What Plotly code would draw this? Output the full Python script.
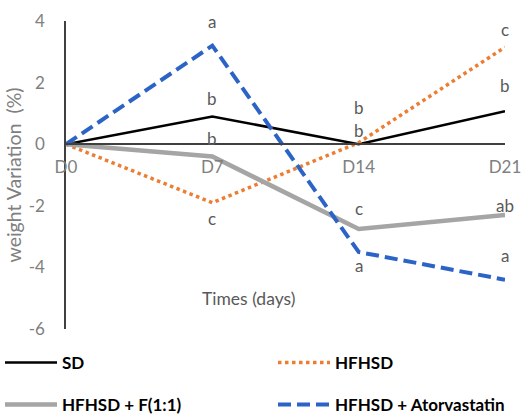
import plotly.graph_objects as go

days = ["D0", "D7", "D14", "D21"]
x_idx = [0, 1, 2, 3]

sd = [0, 0.9, 0.0, 1.07]
hfhsd = [0, -1.9, 0.05, 3.15]
hfhsd_f = [0, -0.4, -2.75, -2.3]
hfhsd_ator = [0, 3.2, -3.5, -4.4]

letter_x = [1, 1, 1, 1, 2, 2, 2, 2, 3, 3, 3, 3]
letter_y = [4.0, 1.5, 0.2, -2.4, 1.18, 0.45, -2.1, -3.95, 3.72, 1.92, -2.0, -3.62]
letter_text = ["a", "b", "b", "c", "b", "b", "c", "a", "c", "b", "ab", "a"]

y_ticks = [4, 2, 0, -2, -4, -6]
y_tick_text = ["4", "2", "0", "-2", "-4", "-6"]

FONT = "Lato, Carlito, Open Sans, sans-serif"

fig = go.Figure()
fig.add_trace(go.Scatter(x=x_idx, y=sd, mode="lines", name="SD",
                         line=dict(color="#000000", width=2.5), legend="legend"))
fig.add_trace(go.Scatter(x=x_idx, y=hfhsd, mode="lines", name="HFHSD",
                         line=dict(color="#ED7D31", width=3.5, dash="dot"), legend="legend2"))
fig.add_trace(go.Scatter(x=x_idx, y=hfhsd_f, mode="lines", name="HFHSD + F(1:1)",
                         line=dict(color="#A5A5A5", width=4.5), legend="legend3"))
fig.add_trace(go.Scatter(x=x_idx, y=hfhsd_ator, mode="lines", name="HFHSD + Atorvastatin",
                         line=dict(color="#2B63C6", width=4, dash="13px,6px"), legend="legend4"))

for lx, ly, lt in zip(letter_x, letter_y, letter_text):
    fig.add_annotation(x=lx, y=ly, text=lt, showarrow=False,
                       font=dict(family=FONT, size=17, color="#595959"))

fig.add_annotation(x=1.25, y=-5.0, text="Times (days)", showarrow=False,
                   font=dict(family=FONT, size=17.5, color="#595959"))

def leg(x, y):
    return dict(orientation="h", xref="container", yref="container",
                x=x, y=y, xanchor="left", yanchor="middle",
                font=dict(family=FONT, size=17, color="#000000", weight="bold"),
                bgcolor="rgba(0,0,0,0)", itemwidth=52)

fig.update_layout(
    width=521, height=417,
    margin=dict(l=66, r=16, t=21, b=88, autoexpand=False),
    paper_bgcolor="white", plot_bgcolor="white",
    showlegend=True,
    legend=leg(-2 / 521, 1 - 363 / 417),
    legend2=leg(273 / 521, 1 - 363 / 417),
    legend3=leg(-2 / 521, 1 - 405 / 417),
    legend4=leg(273 / 521, 1 - 405 / 417),
    xaxis=dict(range=[0, 3], tickvals=x_idx, ticktext=days, showgrid=False,
               zeroline=False, showline=True, linecolor="#404040", linewidth=1.5,
               anchor="free", position=0.6, ticks="outside", ticklen=8,
               tickcolor="rgba(0,0,0,0)", ticklabeloverflow="allow",
               tickfont=dict(family=FONT, size=17, color="#808080")),
    yaxis=dict(range=[-6, 4], tickvals=y_ticks, ticktext=y_tick_text,
               showgrid=False, zeroline=False,
               showline=True, linecolor="#404040", linewidth=1.5,
               ticks="outside", ticklen=16, tickcolor="rgba(0,0,0,0)",
               tickfont=dict(family=FONT, size=17, color="#808080"),
               title=dict(text="weight Variation  (%)", standoff=2,
                          font=dict(family=FONT, size=19.5, color="#808080"))),
)

fig.write_html("out.html")
